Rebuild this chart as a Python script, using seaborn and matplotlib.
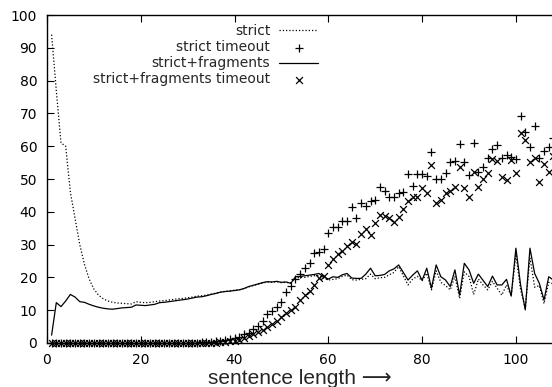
import numpy as np
import pandas as pd
import matplotlib
matplotlib.use("Agg")
import matplotlib.pyplot as plt
import seaborn as sns

# sentence lengths 1..108
length = list(range(1, 109))

strict = [94, 77, 61, 60, 46, 38, 30, 24, 19.5, 16.5,
          14.6, 13.5, 12.8, 12.4, 12.2, 12.1, 12.0, 11.9, 12.6, 12.4,
          12.3, 12.4, 12.6, 12.8, 12.9, 13.1, 13.3, 13.5, 13.6, 13.8,
          14.0, 14.3, 14.4, 14.6, 14.9, 15.2, 15.5, 15.7, 15.9, 16.1,
          16.2, 16.6, 17.1, 17.5, 17.9, 18.3, 18.6, 18.5, 18.7, 18.4,
          18.5, 18.3, 19.8, 20.0, 20.0, 20.3, 20.5, 20.6, 19.8, 19.2,
          19.4, 19.6, 20.3, 20.7, 19.3, 19.2, 19.4, 19.6, 21.0, 19.6,
          19.9, 20.0, 20.8, 21.5, 23.3, 20.5, 17.7, 19.5, 20.3, 19.0,
          21.3, 16.2, 22.0, 18.5, 17.5, 16.2, 20.3, 13.6, 21.7, 20.3,
          14.8, 19.5, 17.7, 16.2, 18.8, 16.7, 14.6, 17.7, 14.3, 27.0,
          16.2, 10.6, 26.0, 17.0, 17.5, 12.0, 18.5, 18.0]

fragments = [2.4, 12.3, 11.1, 12.8, 14.8, 14.0, 12.6, 12.4, 11.8, 11.3,
             10.9, 10.6, 10.4, 10.3, 10.5, 10.7, 10.8, 10.9, 11.6, 11.5,
             11.4, 11.6, 11.8, 12.3, 12.4, 12.6, 12.8, 13.0, 13.2, 13.4,
             13.7, 14.0, 14.1, 14.4, 14.8, 15.1, 15.5, 15.7, 15.8, 16.0,
             16.2, 16.6, 17.2, 17.6, 18.0, 18.4, 18.7, 18.6, 18.8, 18.5,
             18.6, 18.2, 20.2, 20.3, 20.5, 20.7, 20.9, 21.2, 20.2, 19.5,
             20.2, 20.0, 20.8, 21.2, 19.8, 19.7, 19.7, 21.0, 22.8, 20.5,
             20.6, 20.9, 22.0, 22.6, 23.8, 21.5, 19.2, 20.7, 22.0, 19.1,
             22.8, 16.7, 23.8, 20.2, 19.2, 17.2, 22.3, 14.6, 24.3, 22.3,
             18.2, 21.0, 19.1, 17.2, 20.4, 17.7, 17.7, 19.4, 14.3, 28.9,
             17.7, 10.1, 28.9, 21.2, 18.2, 13.1, 20.2, 19.2]

strict_timeout = [0] * 30 + [
    0.1, 0.1, 0.2, 0.3, 0.4, 0.5, 0.7, 0.9, 1.1, 1.4,
    1.7, 2.6, 3.2, 4.3, 5.2, 6.8, 8.8, 9.8, 10.9, 12.6,
    15.6, 17.5, 19.4, 21.0, 22.8, 24.5, 27.3, 27.8, 28.6, 33.6,
    35.5, 35.5, 37.3, 37.3, 41.4, 38.0, 42.8, 41.8, 43.4, 43.6,
    47.5, 46.4, 44.6, 44.6, 45.8, 46.1, 51.5, 48.0, 51.5, 51.4,
    51.0, 58.3, 49.9, 49.9, 51.9, 55.3, 55.6, 60.7, 55.3, 51.2,
    60.9, 52.2, 53.8, 56.3, 59.0, 60.4, 56.3, 57.3, 56.8, 56.1,
    69.2, 64.4, 59.7, 66.2, 56.5, 58.6, 59.7, 62.4]

fragments_timeout = [0] * 35 + [
    0.1, 0.2, 0.3, 0.5, 0.7,
    1.0, 1.6, 2.2, 2.8, 3.4, 4.0, 5.0, 5.8, 6.6, 7.8,
    9.0, 10.2, 11.1, 13.0, 14.6, 16.0, 17.8, 19.7, 20.5, 23.8,
    25.5, 27.1, 28.1, 29.7, 30.9, 30.3, 33.2, 34.7, 32.9, 36.5,
    39.0, 38.7, 38.0, 36.8, 38.5, 40.8, 43.4, 44.6, 44.6, 47.2,
    45.6, 54.3, 42.8, 43.6, 45.6, 46.3, 47.7, 53.8, 47.2, 44.4,
    52.2, 47.7, 50.0, 51.7, 56.0, 55.6, 50.7, 49.7, 55.8, 51.9,
    63.9, 61.9, 55.3, 56.3, 49.2, 54.6, 52.2, 57.0]

df = pd.DataFrame({"length": length, "strict": strict, "fragments": fragments,
                   "strict_timeout": strict_timeout,
                   "fragments_timeout": fragments_timeout})

sns.set_style("ticks")
plt.rcParams['font.family'] = ['DejaVu Sans']

fig = plt.figure(figsize=(5.52, 3.87), dpi=100)
ax = fig.add_axes([0.085, 0.1137, 0.915, 0.8475])

sns.lineplot(data=df, x="length", y="strict", ax=ax, color="black",
             linestyle=(0, (1, 1.6)), linewidth=0.9, label="strict")
sns.scatterplot(data=df, x="length", y="strict_timeout", ax=ax, color="black",
                marker="+", s=28, linewidth=0.9, label="strict timeout",
                clip_on=False, zorder=3)
sns.lineplot(data=df, x="length", y="fragments", ax=ax, color="black",
             linewidth=0.9, label="strict+fragments")
sns.scatterplot(data=df, x="length", y="fragments_timeout", ax=ax, color="black",
                marker="x", s=24, linewidth=0.9, label="strict+fragments timeout",
                clip_on=False, zorder=3)

ax.set_xlim(0, 107.7)
ax.set_ylim(0, 100)
ax.set_xticks(range(0, 101, 20))
ax.set_yticks(range(0, 101, 10))
ax.tick_params(direction="in", top=True, right=False, length=5, width=0.8,
               labelsize=10, pad=7, colors="black")
ax.spines["right"].set_visible(False)
for s in ["left", "top", "bottom"]:
    ax.spines[s].set_linewidth(1.0)
    ax.spines[s].set_color("black")

ax.set_ylabel("")
ax.set_xlabel("sentence length \u27f6", fontsize=15,
              family=["Liberation Sans", "DejaVu Sans"], labelpad=2)

leg = ax.legend(loc="upper right", bbox_to_anchor=(0.537, 0.972), frameon=False,
                markerfirst=False, fontsize=10, handlelength=2.8,
                handletextpad=0.65, labelspacing=0.15, borderpad=0, borderaxespad=0)

fig.savefig("out.png", dpi=100)
